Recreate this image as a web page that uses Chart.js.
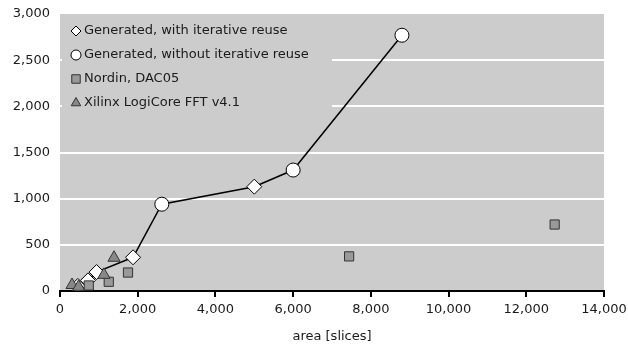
<!DOCTYPE html>
<html>
<head>
<meta charset="utf-8">
<script src="https://cdn.jsdelivr.net/npm/chart.js@4"></script>
<style>
html,body{margin:0;padding:0;background:#fff;}
#wrap{width:628px;height:344px;position:relative;}
</style>
</head>
<body>
<div id="wrap"><canvas id="c" width="628" height="344"></canvas></div>
<script>
// ---- data ----
const seriesNames = ["Generated, with iterative reuse", "Generated, without iterative reuse", "Nordin, DAC05", "Xilinx LogiCore FFT v4.1"];
const reuseX = [460, 720, 940, 1880, 5000];
const reuseY = [55, 115, 205, 365, 1130];
const noReuseX = [2620, 6000, 8800];
const noReuseY = [940, 1310, 2770];
const nordinX = [740, 1255, 1750, 7440, 12730];
const nordinY = [60, 100, 200, 375, 720];
const xilinxX = [310, 480, 1130, 1390];
const xilinxY = [65, 45, 175, 360];
const xTicks = [0, 2000, 4000, 6000, 8000, 10000, 12000, 14000];
const yTicks = [0, 500, 1000, 1500, 2000, 2500, 3000];
const xTitle = "area [slices]";

const pts = (xs, ys) => xs.map((x, i) => ({x: x, y: ys[i]}));
const generatedLine = pts(reuseX, reuseY).concat(pts(noReuseX, noReuseY)).sort((a, b) => a.x - b.x);

const FONT = "'DejaVu Sans', Verdana, sans-serif";
const TXT = '#1a1a1a';

const bgPlugin = {
  id: 'plotBg',
  beforeDraw(chart) {
    const a = chart.chartArea, ctx = chart.ctx;
    ctx.save();
    ctx.fillStyle = '#cccccc';
    ctx.fillRect(a.left, a.top, a.right - a.left, a.bottom - a.top);
    ctx.restore();
  }
};

const legendPlugin = {
  id: 'insideLegend',
  beforeDatasetsDraw(chart) {
    const a = chart.chartArea, ctx = chart.ctx;
    ctx.save();
    ctx.fillStyle = '#cccccc';
    ctx.fillRect(a.left + 2, a.top + 1, 270, 104);
    const items = [
      {ds: 1, style: 'rectRot', r: 5},
      {ds: 2, style: 'circle', r: 5},
      {ds: 3, style: 'rect', r: 6},
      {ds: 4, style: 'triangle', r: 5.5}
    ];
    items.forEach((it, i) => {
      const d = chart.data.datasets[it.ds];
      const y = a.top + 17 + i * 24;
      const x = a.left + 16;
      ctx.fillStyle = d.backgroundColor;
      ctx.strokeStyle = d.borderColor;
      ctx.lineWidth = 1;
      Chart.helpers.drawPoint(ctx, {pointStyle: it.style, radius: it.r, rotation: 0, borderWidth: 1}, x, y);
      ctx.fillStyle = TXT;
      ctx.font = '13px ' + FONT;
      ctx.textAlign = 'left';
      ctx.textBaseline = 'middle';
      ctx.fillText(d.label, x + 8, y);
    });
    ctx.restore();
  }
};

new Chart(document.getElementById('c'), {
  type: 'scatter',
  data: {
    datasets: [
      {label: 'line', data: generatedLine, showLine: true, pointRadius: 0, pointHoverRadius: 0,
       borderColor: '#000', borderWidth: 1.5, backgroundColor: '#000', order: 5},
      {label: seriesNames[0], data: pts(reuseX, reuseY), pointStyle: 'rectRot', pointRadius: 7.5,
       backgroundColor: '#ffffff', borderColor: '#000', borderWidth: 1, order: 4},
      {label: seriesNames[1], data: pts(noReuseX, noReuseY), pointStyle: 'circle', pointRadius: 7,
       backgroundColor: '#ffffff', borderColor: '#000', borderWidth: 1, order: 3},
      {label: seriesNames[2], data: pts(nordinX, nordinY), pointStyle: 'rect', pointRadius: 6.5,
       backgroundColor: '#999999', borderColor: '#333', borderWidth: 1, order: 2},
      {label: seriesNames[3], data: pts(xilinxX, xilinxY), pointStyle: 'triangle', pointRadius: 7,
       backgroundColor: '#888888', borderColor: '#333', borderWidth: 1, order: 1}
    ]
  },
  options: {
    responsive: false,
    animation: false,
    devicePixelRatio: 1,
    layout: {padding: {left: 0, right: 24, top: 14, bottom: 0}},
    plugins: {legend: {display: false}, tooltip: {enabled: false}},
    scales: {
      x: {
        type: 'linear', min: xTicks[0], max: xTicks[xTicks.length - 1],
        afterBuildTicks: s => { s.ticks = xTicks.map(v => ({value: v})); },
        afterFit: s => { s.height = 53; s.paddingLeft = 0; s.paddingRight = 0; },
        border: {display: true, color: '#000', width: 2},
        grid: {drawOnChartArea: false, drawTicks: true, tickLength: 6, color: '#000', lineWidth: 2},
        ticks: {color: TXT, font: {family: FONT, size: 13}, padding: 5, maxRotation: 0,
                callback: v => v.toLocaleString('en-US')},
        title: {display: true, text: xTitle, color: TXT, font: {family: FONT, size: 13}, padding: {top: 5, bottom: 0}}
      },
      y: {
        type: 'linear', min: yTicks[0], max: yTicks[yTicks.length - 1],
        afterBuildTicks: s => { s.ticks = yTicks.map(v => ({value: v})); },
        afterFit: s => { s.width = 60; s.paddingTop = 0; s.paddingBottom = 0; },
        border: {display: false},
        grid: {drawTicks: false, lineWidth: 2,
               color: c => (c.tick && (c.tick.value === 0 || c.tick.value === 3000)) ? 'rgba(0,0,0,0)' : '#ffffff'},
        ticks: {color: TXT, font: {family: FONT, size: 13}, padding: 10,
                callback: v => v.toLocaleString('en-US')}
      }
    }
  },
  plugins: [bgPlugin, legendPlugin]
});
</script>
</body>
</html>
